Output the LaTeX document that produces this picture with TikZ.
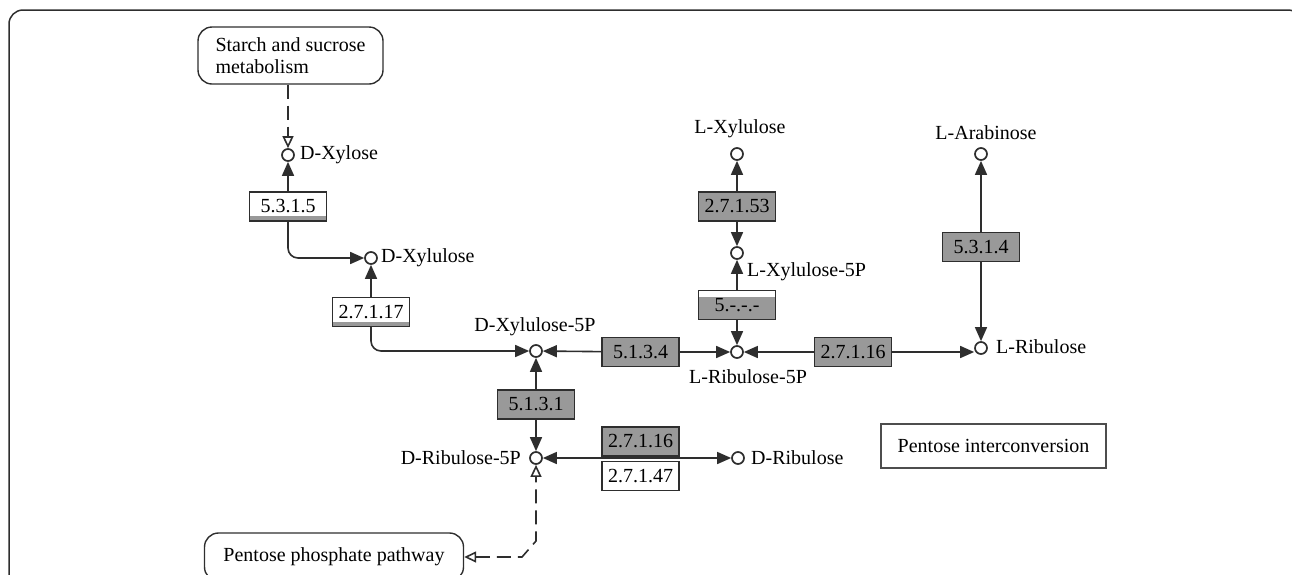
\documentclass[tikz,border=0pt]{standalone}
\usepackage{fontspec}
\setmainfont{Liberation Serif}
\usetikzlibrary{arrows.meta}
\definecolor{ln}{HTML}{2E2E2E}
\definecolor{bx}{HTML}{999999}
\begin{document}
\begin{tikzpicture}[x=1pt,y=-1pt,
  every node/.style={font=\fontsize{20}{22}\selectfont, text=black},
  cpd/.style={circle, draw=ln, line width=1.7pt, minimum size=12pt, inner sep=0pt, fill=white},
  lbl/.style={inner sep=0pt},
  enz/.style={rectangle, draw=ln, line width=1.4pt, minimum width=77pt, minimum height=29pt, inner sep=0pt, fill=bx, font=\fontsize{20}{22}\selectfont},
  enzw/.style={enz, fill=white, path picture={\fill[bx] (path picture bounding box.south west) rectangle ([yshift=5pt]path picture bounding box.south east);}},
  enzp/.style={enz, path picture={\fill[white] ([yshift=-6pt]path picture bounding box.north west) rectangle (path picture bounding box.north east);}},
  mapbox/.style={rectangle, rounded corners=14pt, draw=ln, line width=1.4pt, inner sep=0pt},
  conn/.style={draw=ln, line width=1.6pt, -{Triangle[length=14pt,width=12pt]}},
  conn2/.style={draw=ln, line width=1.6pt, {Triangle[length=14pt,width=12pt]}-{Triangle[length=14pt,width=12pt]}},
  dashln/.style={draw=ln, line width=1.6pt, dash pattern=on 14pt off 7pt}
]
\useasboundingbox (0,0) rectangle (1292,574);
\clip (0,0) rectangle (1292,574);
\draw[ln, line width=1.5pt, rounded corners=14pt] (9,10) rectangle (1302,640);

% map links
\node[mapbox, minimum width=185pt, minimum height=57pt, align=left] (starch) at (290.5,55.5) {Starch and sucrose\\metabolism};
\node[mapbox, minimum width=259pt, minimum height=48pt] (ppp) at (334,557) {Pentose phosphate pathway};
\node[rectangle, draw=ln!85, line width=2.5pt, minimum width=225pt, minimum height=44pt, inner sep=0pt] (pic) at (993.5,446) {Pentose interconversion};

% compounds
\node[cpd] (dxyl) at (288,155) {};
\node[lbl, anchor=west] (dxyl-l) at (300,155) {D-Xylose};
\node[cpd] (dxylu) at (371,258) {};
\node[lbl, anchor=west] (dxylu-l) at (381,258) {D-Xylulose};
\node[cpd] (dxyl5p) at (536,351) {};
\node[lbl] (dxyl5p-l) at (535,327) {D-Xylulose-5P};
\node[cpd] (lrib5p) at (737,352) {};
\node[lbl] (lrib5p-l) at (748,377) {L-Ribulose-5P};
\node[cpd] (lrib) at (981,348) {};
\node[lbl, anchor=west] (lrib-l) at (996,347) {L-Ribulose};
\node[cpd] (lara) at (981,154) {};
\node[lbl] (lara-l) at (986,133) {L-Arabinose};
\node[cpd] (lxyl) at (737,154) {};
\node[lbl] (lxyl-l) at (740,129) {L-Xylulose};
\node[cpd] (lxyl5p) at (737,253) {};
\node[lbl, anchor=west] (lxyl5p-l) at (747,272) {L-Xylulose-5P};
\node[cpd] (drib5p) at (536,458) {};
\node[lbl, anchor=east] (drib5p-l) at (521,458) {D-Ribulose-5P};
\node[cpd] (drib) at (738,458) {};
\node[lbl, anchor=west] (drib-l) at (751,458) {D-Ribulose};

% enzymes
\node[enzw] (b5315) at (288,206.5) {5.3.1.5};
\node[enzw] (b27117) at (371,312) {2.7.1.17};
\node[enz] (b5134) at (640.5,352) {5.1.3.4};
\node[enz] (b27116a) at (853,352) {2.7.1.16};
\node[enz] (b5314) at (981,247) {5.3.1.4};
\node[enz] (b27153) at (737,206.5) {2.7.1.53};
\node[enzp] (b5xxx) at (737,305) {5.-.-.-};
\node[enz] (b5131) at (536,404.5) {5.1.3.1};
\node[enz] (b27116b) at (640.5,441.5) {2.7.1.16};
\node[enz, fill=white] (b27147) at (640.5,476) {2.7.1.47};

% connectors
\draw[dashln, -{Triangle[open, length=12pt, width=11pt, fill=white]}] (starch.south -| dxyl) -- (dxyl);
\draw[conn] (b5315) -- (dxyl);
\draw[conn, rounded corners=10pt] (b5315.south) |- (dxylu);
\draw[conn] (b27117) -- (dxylu);
\draw[conn, rounded corners=10pt] (b27117.south) |- (dxyl5p);
\draw[conn] (b5134) -- (dxyl5p);
\draw[conn] (b5134) -- (lrib5p);
\draw[conn] (b27116a) -- (lrib5p);
\draw[conn] (b27116a.east) -- (b27116a.east -| lrib.west);
\draw[conn] (b5314) -- (lara);
\draw[conn] (b5314) -- (lrib);
\draw[conn] (b27153) -- (lxyl);
\draw[conn] (b27153) -- (lxyl5p);
\draw[conn] (b5xxx) -- (lxyl5p);
\draw[conn] (b5xxx) -- (lrib5p);
\draw[conn] (b5131) -- (dxyl5p);
\draw[conn] (b5131) -- (drib5p);
\draw[conn2] (drib5p) -- (drib);
\coordinate (pp1) at (536,541);
\coordinate (pp2) at (522,557);
\draw[dashln, {Triangle[open, length=12pt, width=11pt, fill=white]}-{Triangle[open, length=12pt, width=11pt, fill=white]}] (ppp.east) -- (pp2) -- (pp1) -- (drib5p);
\end{tikzpicture}
\end{document}
